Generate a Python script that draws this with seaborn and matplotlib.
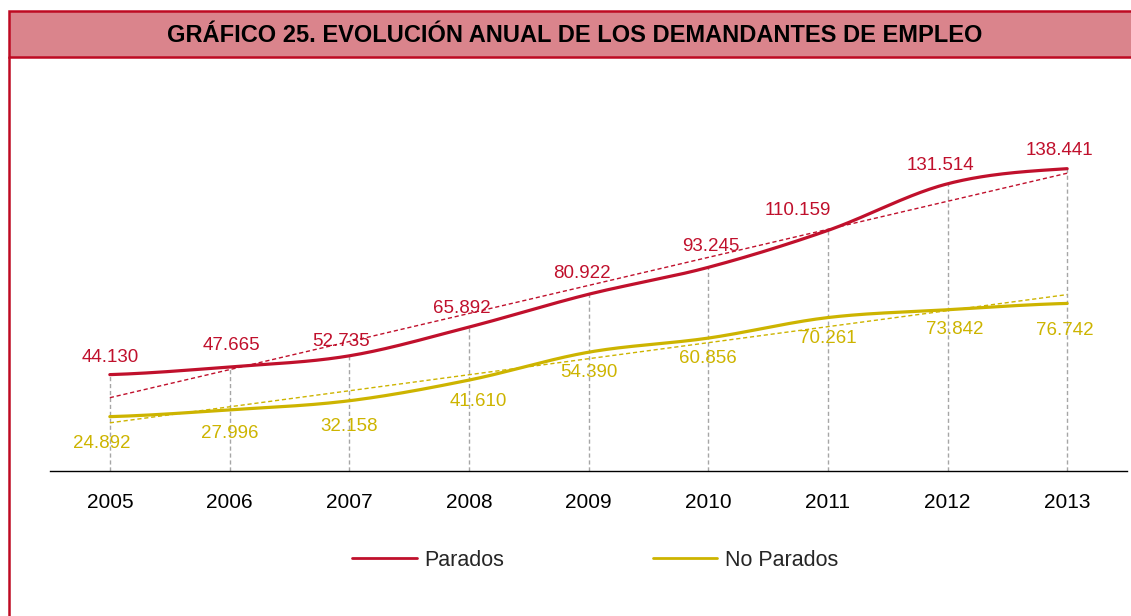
import numpy as np
import pandas as pd
import matplotlib
matplotlib.use("Agg")
import matplotlib.pyplot as plt
import seaborn as sns
from matplotlib.patches import Rectangle
from matplotlib.lines import Line2D

# ---------------- data ----------------
years = ["2005", "2006", "2007", "2008", "2009", "2010", "2011", "2012", "2013"]
parados = [44130, 47665, 52735, 65892, 80922, 93245, 110159, 131514, 138441]
no_parados = [24892, 27996, 32158, 41610, 54390, 60856, 70261, 73842, 76742]
series_names = ["Parados", "No Parados"]
title = "GRÁFICO 25. EVOLUCIÓN ANUAL DE LOS DEMANDANTES DE EMPLEO"

# label placement offsets in pixels (layout only)
par_dx = [0, 2, -8, -7, -7, 3, -30, -7, -8]
par_dy = [17, 21, 14, 19, 21, 21, 20, 18, 18]
nop_dx = [-8, 0, 0, 9, 0, 0, 0, 7, -2]
nop_dy = [-27, -24, -26, -21, -20, -20, -21, -20, -27]

# ---------------- style ----------------
RED = "#C0102C"
YEL = "#CDB400"
BANNER = "#DA848C"
BORDER = "#BE0A22"
GRID = "#A6A6A6"

sns.set_theme(style="white")
plt.rcParams["font.family"] = ["Liberation Sans", "DejaVu Sans"]

W, H = 1131, 616
fig = plt.figure(figsize=(W / 100, H / 100), dpi=100)
ax = fig.add_axes([50 / W, 1 - 471 / H, (1127 - 50) / W, 349.4 / H])


def fmt(v):
    return f"{v:,}".replace(",", ".")


def smooth(y, n=40):
    """Catmull-Rom (Excel-like) smoothing of a series on index positions."""
    y = np.asarray(y, float)
    k = len(y)
    m = np.empty(k)
    m[1:-1] = (y[2:] - y[:-2]) / 2
    m[0] = (y[1] - y[0]) / 2
    m[-1] = (y[-1] - y[-2]) / 2
    xs, ys = [], []
    for i in range(k - 1):
        t = np.linspace(0, 1, n, endpoint=(i == k - 2))
        h00 = 2 * t**3 - 3 * t**2 + 1
        h10 = t**3 - 2 * t**2 + t
        h01 = -2 * t**3 + 3 * t**2
        h11 = t**3 - t**2
        ys.append(h00 * y[i] + h10 * m[i] + h01 * y[i + 1] + h11 * m[i + 1])
        xs.append(i + t)
    return np.concatenate(xs), np.concatenate(ys)


idx = np.arange(len(years))
frames = []
for name, vals in zip(series_names, [parados, no_parados]):
    sx, sy = smooth(vals)
    frames.append(pd.DataFrame({"x": sx, "value": sy, "serie": name}))
df = pd.concat(frames, ignore_index=True)

# drop lines
ax.vlines(idx, 0, np.maximum(parados, no_parados), colors=GRID,
          linestyles=(0, (3, 2)), linewidth=1.0, zorder=1)

# trend lines
for vals, col in [(parados, RED), (no_parados, YEL)]:
    a, b = np.polyfit(idx, vals, 1)
    tdf = pd.DataFrame({"x": idx, "value": a * idx + b})
    sns.lineplot(data=tdf, x="x", y="value", ax=ax, color=col,
                 linewidth=1.0, linestyle=(0, (3, 2)), legend=False, zorder=2)

# smoothed lines
sns.lineplot(data=df, x="x", y="value", hue="serie", ax=ax,
             palette={"Parados": RED, "No Parados": YEL}, sort=False,
             estimator=None, linewidth=2.3, legend=False, zorder=3)

# labels
for i, v in enumerate(parados):
    ax.annotate(fmt(v), (i, v), xytext=(par_dx[i], par_dy[i]), textcoords="offset pixels",
                ha="center", va="center", color=RED, fontsize=13.5, zorder=4)
for i, v in enumerate(no_parados):
    ax.annotate(fmt(v), (i, v), xytext=(nop_dx[i], nop_dy[i]), textcoords="offset pixels",
                ha="center", va="center", color=YEL, fontsize=13.5, zorder=4)

ax.set_xlim(-0.5, len(years) - 0.5)
ax.set_ylim(0, 160000)
ax.set_xticks(idx)
ax.set_xticklabels(years, fontsize=15)
ax.set_yticks([])
ax.set_xlabel("")
ax.set_ylabel("")
ax.tick_params(axis="x", length=0, pad=15.5, colors="black")
for s in ["top", "right", "left"]:
    ax.spines[s].set_visible(False)
ax.spines["bottom"].set_color("black")
ax.spines["bottom"].set_linewidth(1.0)
ax.set_facecolor("none")

# banner & frame
fig.patches.append(Rectangle((9 / W, 1 - 57 / H), 1.0, 46 / H, transform=fig.transFigure,
                             facecolor=BANNER, edgecolor=BORDER, linewidth=1.8, zorder=0))
fig.lines.append(Line2D([9 / W, 9 / W], [0, 1 - 57 / H], transform=fig.transFigure,
                        color=BORDER, linewidth=1.8))
fig.text(575 / W, 1 - 35 / H, title, ha="center", va="center",
         fontsize=17, fontweight="bold", color="black")

handles = [Line2D([], [], color=RED, linewidth=2.0),
           Line2D([], [], color=YEL, linewidth=2.0)]
fig.legend(handles, series_names, loc="center", bbox_to_anchor=(595 / W, 1 - 560 / H),
           ncol=2, frameon=False, fontsize=15.5, handlelength=3.0,
           handletextpad=0.35, columnspacing=6.9)

fig.savefig("out.png", dpi=100)
